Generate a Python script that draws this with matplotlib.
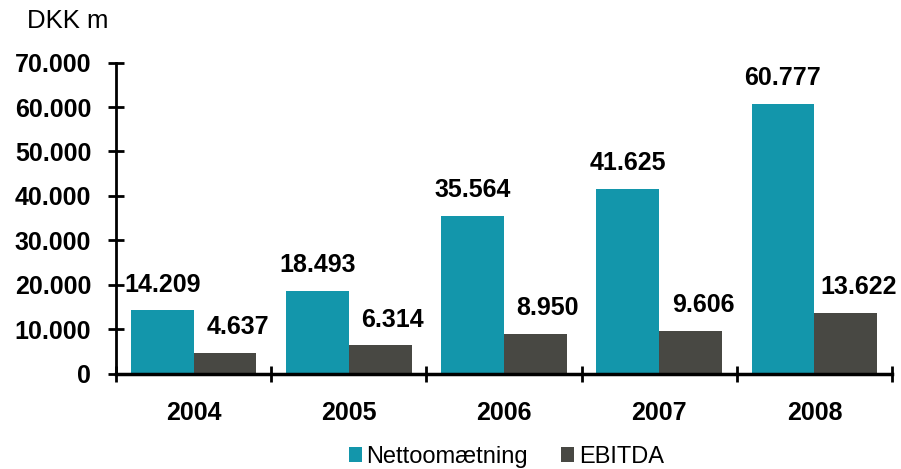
import numpy as np
import matplotlib.pyplot as plt
from matplotlib.ticker import FuncFormatter, FixedLocator

plt.rcParams['font.family'] = ['Liberation Sans', 'DejaVu Sans']

years = ['2004', '2005', '2006', '2007', '2008']
netto = [14209, 18493, 35564, 41625, 60777]
ebitda = [4637, 6314, 8950, 9606, 13622]

teal = '#1396AB'
dark = '#484843'

def dk(v, pos=None):
    return '{:,.0f}'.format(v).replace(',', '.')

fig = plt.figure(figsize=(9.01, 4.69), dpi=100)
ax = fig.add_axes([0.1287, 0.2036, 0.8613, 0.6628])

x = np.arange(len(years))
w = 0.405
b1 = ax.bar(x - w / 2, netto, w, color=teal, label='Nettoomætning')
b2 = ax.bar(x + w / 2, ebitda, w, color=dark, label='EBITDA')

# value labels over the bars
for rect, v in zip(b1, netto):
    ax.annotate(dk(v), (rect.get_x() + rect.get_width() / 2, v), xytext=(0, 10),
                textcoords='offset points', ha='center', va='bottom',
                fontsize=18, fontweight='bold')
for rect, v in zip(b2, ebitda):
    ax.annotate(dk(v), (rect.get_x() + rect.get_width() / 2, v), xytext=(9, 10),
                textcoords='offset points', ha='center', va='bottom',
                fontsize=18, fontweight='bold')

ax.set_xlim(-0.5, 4.5)
ax.set_ylim(0, 70000)
ax.set_yticks(np.arange(0, 70001, 10000))
ax.yaxis.set_major_formatter(FuncFormatter(dk))
ax.set_xticks(x)
ax.set_xticklabels(years)
ax.xaxis.set_minor_locator(FixedLocator(np.arange(-0.5, 4.6, 1)))

for s in ['top', 'right']:
    ax.spines[s].set_visible(False)
ax.spines['left'].set_linewidth(2)
ax.spines['bottom'].set_linewidth(2.5)

ax.tick_params(axis='y', direction='inout', length=11.5, width=2, pad=12,
               labelsize=18)
ax.tick_params(axis='x', which='major', length=0, pad=20, labelsize=18)
ax.tick_params(axis='x', which='minor', direction='inout', length=11.5, width=2)
for lab in ax.get_xticklabels() + ax.get_yticklabels():
    lab.set_fontweight('bold')

fig.text(0.03, 0.955, 'DKK m', fontsize=18.5, va='center', ha='left')

fig.legend(loc='center', bbox_to_anchor=(0.562, 0.026), ncol=2, frameon=False,
           fontsize=17, handlelength=0.55, handleheight=0.55, handletextpad=0.2,
           columnspacing=1.4, borderpad=0)

fig.savefig('out.png', dpi=100)
